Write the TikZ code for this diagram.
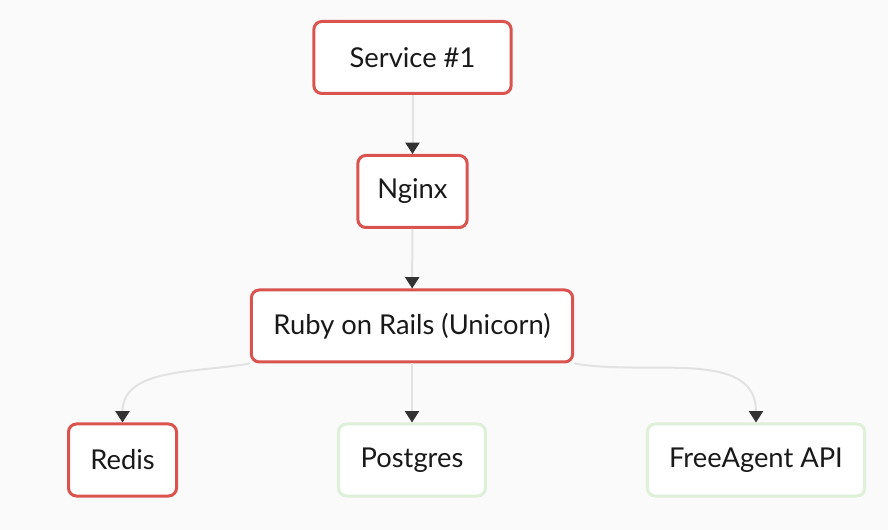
\documentclass[tikz,border=0pt]{standalone}
\usepackage{fontspec}
\setmainfont{Lato}
\usepackage{tikz}
\usetikzlibrary{arrows.meta}

\definecolor{bgcol}{HTML}{FAFAFA}
\definecolor{boxred}{HTML}{D9534F}
\definecolor{boxgreen}{HTML}{DFF0D8}
\definecolor{linegray}{HTML}{E2E2E2}
\definecolor{tipgray}{HTML}{333333}

\tikzset{
    box/.style={draw=boxred, line width=2.25pt, fill=white, rounded corners=6pt,
        minimum height=54pt, inner sep=0pt, text=black!90,
        font=\fontsize{20.5}{24}\selectfont},
    greenbox/.style={box, draw=boxgreen},
    edge/.style={draw=linegray, line width=1.5pt,
        -{Triangle[length=8.5pt, width=10.5pt, color=tipgray]}}
}

\begin{document}
\begin{tikzpicture}[x=0.75pt, y=-0.75pt]
    % background
    \fill[bgcol] (0,0) rectangle (888,530);
    \useasboundingbox (0,0) rectangle (888,530);

    % boxes
    \node[box, minimum width=148pt] (service) at (412.5,57.5) {Service \#1};
    \node[box, minimum width=82pt] (nginx) at (412.5,191.5) {Nginx};
    \node[box, minimum width=241pt] (rails) at (412,326) {Ruby on Rails (Unicorn)};
    \node[box, minimum width=81pt] (redis) at (122.5,460) {Redis};
    \node[greenbox, minimum width=110pt] (postgres) at (412,460) {Postgres};
    \node[greenbox, minimum width=163pt] (freeagent) at (756,460) {FreeAgent API};

    % connectors
    \draw[edge] (service) -- (nginx);
    \draw[edge] (nginx) -- (rails);
    \draw[edge] (rails) -- (postgres);
    \draw[edge] (rails.south west) to[out=190, in=90] (redis.north);
    \draw[edge] (rails.south east) to[out=-10, in=90] (freeagent.north);
\end{tikzpicture}
\end{document}
